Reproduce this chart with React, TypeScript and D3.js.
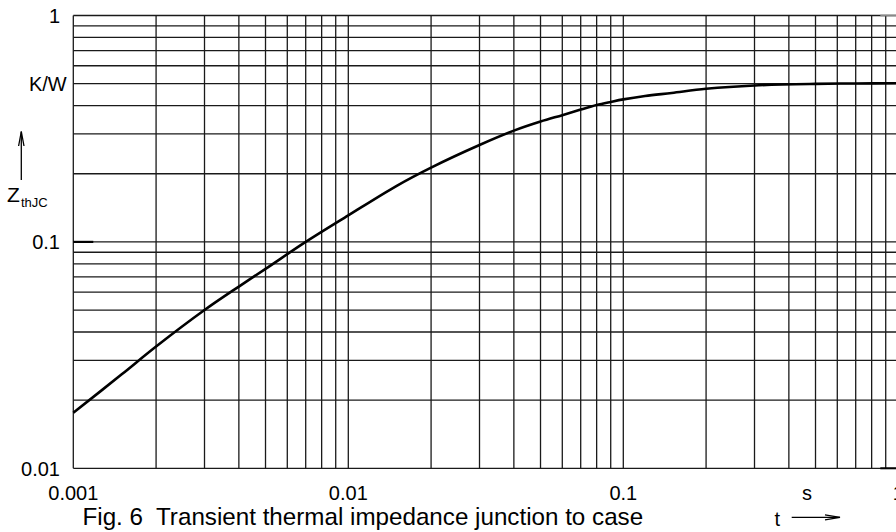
import * as d3 from "d3";

// Transient thermal impedance curve
const timeS: number[] = [
  0.001, 0.0015, 0.002, 0.003, 0.004, 0.005, 0.007, 0.01, 0.015, 0.02, 0.03,
  0.04, 0.05, 0.06, 0.07, 0.08, 0.09, 0.1, 0.12, 0.15, 0.2, 0.3, 0.5, 0.7, 1,
];
const zthjc: number[] = [
  0.0176, 0.026, 0.0345, 0.05, 0.0635, 0.076, 0.1, 0.131, 0.177, 0.213, 0.268,
  0.31, 0.34, 0.363, 0.384, 0.402, 0.415, 0.426, 0.441, 0.455, 0.4745, 0.491,
  0.499, 0.501, 0.502,
];

const xTicks: number[] = [0.001, 0.01, 0.1, 1];
const xTickLabels: string[] = ["0.001", "0.01", "0.1", "1"];
const yTicks: number[] = [0.01, 0.1, 1];
const yTickLabels: string[] = ["0.01", "0.1", "1"];

const caption = "Fig. 6  Transient thermal impedance junction to case";

const width = 896;
const height = 532;
const font = "'Liberation Sans', Arial, Helvetica, sans-serif";

export default function App() {
  const x = d3.scaleLog().domain([0.001, 1]).range([73.3, 898.3]);
  const y = d3.scaleLog().domain([0.01, 1]).range([468.3, 15.5]);

  const xGrid = x.ticks();
  const yGrid = y.ticks();

  const pts: [number, number][] = timeS.map((t, i) => [t, zthjc[i]]);
  const line = d3
    .line<[number, number]>()
    .x((d) => x(d[0]))
    .y((d) => y(d[1]))
    .curve(d3.curveCatmullRom.alpha(0.5));

  const [x0, x1] = x.range();
  const [y0, y1] = y.range();

  return (
    <svg
      width={width}
      height={height}
      style={{ position: "absolute", left: 0, top: 0, background: "#fff" }}
      fontFamily={font}
    >
      <g stroke="#1a1a1a" strokeWidth={1.3}>
        {xGrid.map((v) => (
          <line key={"vx" + v} x1={x(v)} x2={x(v)} y1={y0} y2={y1} />
        ))}
        {yGrid.map((v) => (
          <line key={"hy" + v} x1={x0} x2={x1} y1={y(v)} y2={y(v)} />
        ))}
      </g>

      {/* short decade ticks */}
      <line x1={x0} x2={x0 + 20} y1={y(0.1)} y2={y(0.1)} stroke="#000" strokeWidth={2.2} />
      <line x1={x1 - 18} x2={x1} y1={y(1)} y2={y(1)} stroke="#888" strokeWidth={1.6} />
      <line x1={x1 - 18} x2={x1} y1={y(0.01)} y2={y(0.01)} stroke="#000" strokeWidth={2} />

      <path d={line(pts) ?? ""} fill="none" stroke="#000" strokeWidth={2.6} />

      <g fontSize={20} fill="#000">
        {yTicks.map((v, i) => (
          <text key={"yl" + v} x={60} y={y(v)} dy="0.36em" textAnchor="end">
            {yTickLabels[i]}
          </text>
        ))}
        {xTicks.map((v, i) => (
          <text key={"xl" + v} x={x(v)} y={500} textAnchor="middle">
            {xTickLabels[i]}
          </text>
        ))}
        <text x={66.7} y={y(0.5)} dy="0.36em" textAnchor="end">
          K/W
        </text>
        <text x={807} y={500} textAnchor="middle">
          s
        </text>
        <text x={7} y={201.7} fontSize={21}>
          Z
        </text>
        <text x={21} y={207} fontSize={13}>
          thJC
        </text>
        <text x={774.5} y={526}>
          t
        </text>
        <text x={82.5} y={525} fontSize={24.2} style={{ whiteSpace: "pre" }}>
          {caption}
        </text>
      </g>

      {/* axis arrows */}
      <g stroke="#000" strokeWidth={1.3} fill="none">
        <line x1={21.3} x2={21.3} y1={180} y2={131.5} />
        <path d="M18.6,146 L21.3,131.5 L24,146" />
        <line x1={791.7} x2={840} y1={517.3} y2={517.3} />
        <path d="M825,514.8 L840,517.3 L825,519.8" />
      </g>
    </svg>
  );
}
